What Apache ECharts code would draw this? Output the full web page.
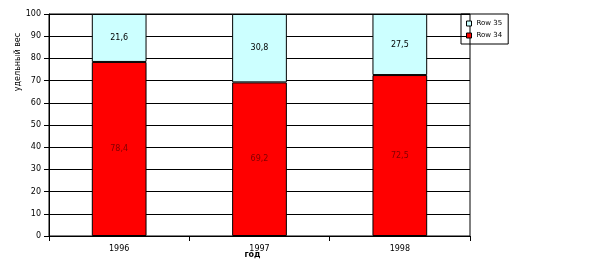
<!DOCTYPE html>
<html><head><meta charset="utf-8">
<script src="https://cdn.jsdelivr.net/npm/echarts@6/dist/echarts.min.js"></script>
<style>html,body{margin:0;padding:0;background:#fff}#c{width:611px;height:262px}</style>
</head><body><div id="c"></div>
<script>
var categories = ['1996', '1997', '1998'];
var row34 = [78.4, 69.2, 72.5];
var row35 = [21.6, 30.8, 27.5];
var yTicks = [0, 10, 20, 30, 40, 50, 60, 70, 80, 90, 100];

var FONT = 'DejaVu Sans';
var chart = echarts.init(document.getElementById('c'), null, {renderer: 'canvas'});
function fmt(p) { return String(p.value).replace('.', ','); }
chart.setOption({
  animation: false,
  textStyle: {fontFamily: FONT},
  grid: {left: 49, right: 141, top: 14, bottom: 26, outerBoundsMode: 'none', containLabel: false,
         show: true, borderColor: '#000', borderWidth: 1, backgroundColor: 'transparent'},
  legend: {
    orient: 'vertical', left: 461, top: 14,
    data: ['Row 35', 'Row 34'],
    itemWidth: 5, itemHeight: 5, itemGap: 5,
    padding: [6, 6, 5, 5],
    borderColor: '#000', borderWidth: 1,
    textStyle: {fontSize: 7, color: '#000', fontFamily: FONT},
    itemStyle: {borderWidth: 1, borderColor: '#000'},
    icon: 'rect'
  },
  xAxis: {
    type: 'category', data: categories,
    name: 'год', nameLocation: 'middle', nameGap: 15, nameMoveOverlap: false,
    nameTextStyle: {fontSize: 8, color: '#000', fontWeight: 'bold', padding: [0, 14, 0, 0]},
    axisLine: {lineStyle: {color: '#000', width: 1}},
    axisTick: {show: true, length: 5, lineStyle: {color: '#000'}},
    axisLabel: {fontSize: 8, color: '#000', margin: 9}
  },
  yAxis: {
    type: 'value', min: 0, max: 100, interval: 10,
    axisLine: {show: true, lineStyle: {color: '#000', width: 1}},
    axisTick: {show: true, length: 5, lineStyle: {color: '#000'}},
    axisLabel: {fontSize: 8, color: '#000', margin: 8},
    splitLine: {show: true, lineStyle: {color: '#000', width: 1}}
  },
  graphic: [{
    type: 'text', x: 18, y: 62, rotation: Math.PI / 2,
    style: {text: 'удельный вес', font: '8px "DejaVu Sans"', fill: '#000', textAlign: 'center', textVerticalAlign: 'middle'}
  }],
  series: [{
    name: 'Row 34', type: 'bar', stack: 's', data: row34,
    barCategoryGap: '61%',
    itemStyle: {color: '#FF0000', borderColor: '#000', borderWidth: 1},
    label: {show: true, position: 'inside', formatter: fmt, fontSize: 8, color: '#800000'}
  }, {
    name: 'Row 35', type: 'bar', stack: 's', data: row35,
    barCategoryGap: '61%',
    itemStyle: {color: '#CCFFFF', borderColor: '#000', borderWidth: 1},
    label: {show: true, position: 'inside', formatter: fmt, fontSize: 8, color: '#000'}
  }]
});
</script></body></html>
